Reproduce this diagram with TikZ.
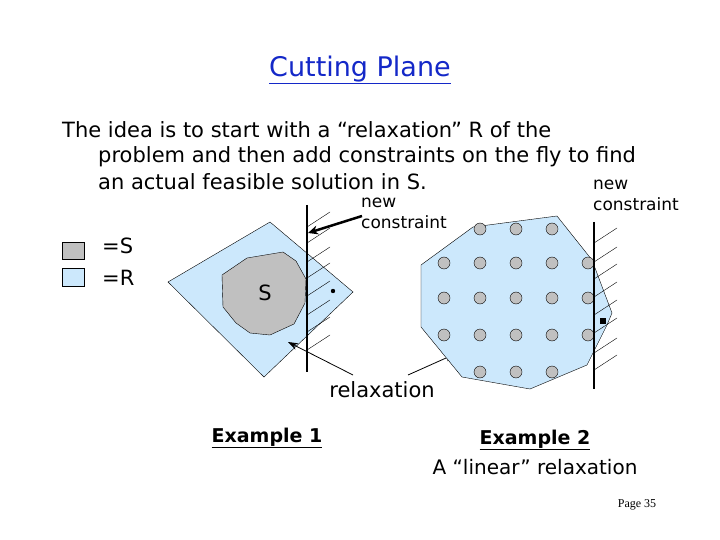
\documentclass[tikz,border=0pt]{standalone}
\usepackage{fontspec}
\setmainfont{DejaVu Sans}
\newfontfamily\serifpage{Liberation Serif}
\usetikzlibrary{arrows.meta}
\definecolor{relax}{RGB}{204,232,252}
\definecolor{sgray}{RGB}{192,192,192}
\definecolor{titleblue}{RGB}{20,40,200}
\begin{document}
\begin{tikzpicture}[x=1pt,y=-1pt,
  txt/.style={inner sep=0pt,anchor=west,font=\fontsize{21}{21}\selectfont},
  lbl/.style={inner sep=0pt,font=\fontsize{17}{21}\selectfont},
  hatch/.style={thin},
  cline/.style={line width=2.2pt},
  pt/.style={circle,draw,fill=sgray,minimum size=12pt,inner sep=0pt},
  arr/.style={thick,-{Stealth[length=10pt,width=7pt]}}]
\useasboundingbox (0,0) rectangle (720,540);
% title
\node[inner sep=0pt,text=titleblue,font=\fontsize{27}{27}\selectfont] (title) at (360,70) {\underline{Cutting Plane}};
\node[txt] (l1) at (62,130) {The idea is to start with a “relaxation” R of the};
\node[txt] (l2) at (98,157) {problem and then add constraints on the fly to find};
\node[txt] (l3) at (98,182) {an actual feasible solution in S.};
% legend
\draw[fill=sgray] (62,242) rectangle (84,259);
\draw[fill=relax] (62,268) rectangle (84,286);
\node[txt] (eqS) at (102,246) {=S};
\node[txt] (eqR) at (102,278) {=R};
% example 1
\draw[fill=relax] (168,282) -- (270,222) -- (353,292) -- (264,377) -- cycle;
\draw[fill=sgray] (247,258) -- (283,252) -- (296,261) -- (306,279) -- (305,303) -- (294,324) -- (270,335) -- (250,333) -- (236,323) -- (223,307) -- (222,275) -- cycle;
\node[txt,anchor=center,font=\fontsize{21}{21}\selectfont] (S) at (265,293) {S};
\foreach \y in {227,243,262,278,296,315,332,350} \draw[hatch] (307,\y) -- ++(23,-15);
\coordinate (c1top) at (307,205); \coordinate (c1bot) at (307,372);
\draw[cline] (c1top) -- (c1bot);
\fill (333,291) circle (2.2pt);
\node[lbl,align=left,anchor=north west] (nc1) at (361,198) {new\\constraint};
\coordinate (c1hit) at (308,233);
\draw[line width=2.5pt,-{Stealth[length=10pt,width=9pt]}] (362,216) -- (c1hit);
\node[inner sep=0pt,font=\fontsize{21}{21}\selectfont] (relaxlbl) at (382,390) {relaxation};
\draw[arr] (353,375) -- (288,342);
\draw[arr] (408,375) -- (455,354);
\node[inner sep=0pt,font=\bfseries\fontsize{19}{19}\selectfont] (ex1) at (267,438) {\underline{Example 1}};
% example 2
\draw[fill=relax] (421,265) -- (473,227) -- (557,216) -- (592,260) -- (612,313) -- (607,325) -- (587,365) -- (530,389) -- (462,377) -- (421,327) -- cycle;
\foreach \x in {480,516,552} {\node[pt] at (\x,229) {}; \node[pt] at (\x,372) {};}
\foreach \x in {444,480,516,552,588} \foreach \y in {263,298,335} \node[pt] at (\x,\y) {};
\foreach \y in {243,262,279,297,315,333,353,370} \draw[hatch] (594,\y) -- ++(23,-15);
\draw[cline] (594,222) -- (594,389);
\fill (600,318) rectangle (606,324);
\node[lbl,align=left,anchor=north west] (nc2) at (593,180) {new\\constraint};
\node[inner sep=0pt,font=\bfseries\fontsize{19}{19}\selectfont] (ex2) at (535,440) {\underline{Example 2}};
\node[inner sep=0pt,font=\fontsize{20}{20}\selectfont] (lin) at (535,467) {A “linear” relaxation};
\node[inner sep=0pt,font=\serifpage\fontsize{12}{12}\selectfont] (page) at (637,505) {Page 35};
\end{tikzpicture}
\end{document}
